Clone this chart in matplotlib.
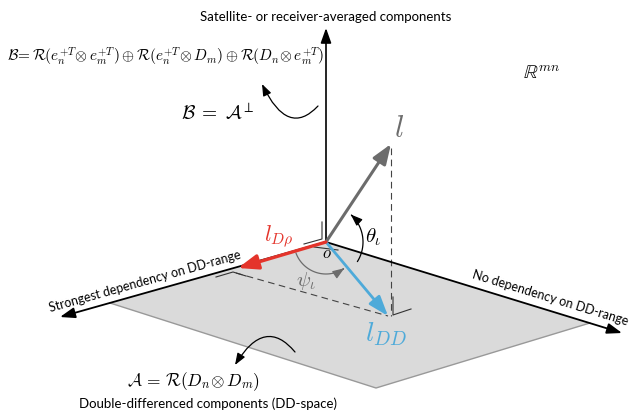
import numpy as np
import matplotlib
matplotlib.use("Agg")
import matplotlib.pyplot as plt
from matplotlib.patches import Polygon, FancyArrowPatch
from matplotlib.path import Path

plt.rcParams['mathtext.fontset'] = 'cm'
plt.rcParams['font.family'] = ['Lato', 'DejaVu Sans']

# geometry of the sketch (pixel units, y pointing down)
origin = (326, 242)
plane = [(326, 242), (110, 303), (376, 388), (590, 323)]
up_tip = (326, 28)
left_tip = (60, 317)
right_tip = (622, 333)
l_tip = (391, 144)
ldp_tip = (238, 268)
ldd_tip = (388, 316)
foot = (236, 273)

# angle arcs: radius, start and end angle (deg, counter-clockwise on screen)
theta_arc = (37, -32, 48)
psi_arc = (32, 200, 305)

# colours
red = '#e4342b'
blue = '#4eaad9'
grey = '#6c6c6c'

fig = plt.figure(figsize=(6.29, 4.13), dpi=100)
ax = fig.add_axes([0, 0, 1, 1])
ax.set_xlim(0, 629)
ax.set_ylim(413, 0)
ax.axis('off')


def arrow(p0, p1, color='k', lw=1.1, hl=9, hw=3.2, z=3):
    a = FancyArrowPatch(p0, p1, arrowstyle='-|>,head_length=%g,head_width=%g' % (hl / 1.39, hw / 1.39),
                        color=color, lw=lw, shrinkA=0, shrinkB=0, mutation_scale=1.39, zorder=z)
    ax.add_patch(a)


def path_arrow(verts, codes, color='k', lw=0.9, hl=7, hw=2.6, z=3):
    a = FancyArrowPatch(path=Path(verts, codes),
                        arrowstyle='-|>,head_length=%g,head_width=%g' % (hl / 1.39, hw / 1.39),
                        color=color, lw=lw, mutation_scale=1.39, zorder=z)
    ax.add_patch(a)


def arc_pts(c, r, a0, a1, n=60):
    t = np.radians(np.linspace(a0, a1, n))
    return np.column_stack([c[0] + r * np.cos(t), c[1] - r * np.sin(t)])


# plane (DD-space)
ax.add_patch(Polygon(plane, closed=True, facecolor='#dadada', edgecolor='none', zorder=1))
ax.plot([plane[1][0], plane[2][0], plane[3][0]], [plane[1][1], plane[2][1], plane[3][1]],
        color='#999999', lw=1.0, zorder=2)

# coordinate axes
arrow(origin, up_tip, lw=1.2)
arrow(origin, left_tip, lw=1.3)
arrow(origin, right_tip, lw=1.3)

# projections
ax.plot([l_tip[0], l_tip[0]], [l_tip[1] + 4, ldd_tip[1]], color='#444444', lw=0.8,
        dashes=(6, 4), zorder=2)
ax.plot([foot[0], ldd_tip[0]], [foot[1], ldd_tip[1]], color='#444444', lw=0.8,
        dashes=(6, 4), zorder=2)

# right-angle marks
ax.plot([322, 322, 304], [222, 239, 244], color='#333333', lw=0.8, zorder=4)
ax.plot([314, 338], [247, 250], color='#333333', lw=0.8, zorder=4)
ax.plot([216, 233, 246], [277, 272, 276], color='#333333', lw=0.8, zorder=4)
ax.plot([393, 393, 411], [297, 315, 309], color='#333333', lw=0.8, zorder=4)

# vectors
arrow(origin, l_tip, color=grey, lw=2.2, hl=12, hw=4.5, z=5)
arrow(origin, ldd_tip, color=blue, lw=2.0, hl=12, hw=4.2, z=5)
arrow(origin, ldp_tip, color=red, lw=2.4, hl=12, hw=4.5, z=5)

# angle arcs
pts = arc_pts(origin, *theta_arc)
path_arrow(pts, [Path.MOVETO] + [Path.LINETO] * (len(pts) - 1), color='k', lw=0.9)
pts = arc_pts(origin, *psi_arc)
path_arrow(pts, [Path.MOVETO] + [Path.LINETO] * (len(pts) - 1), color=grey, lw=0.9)

# curved pointers to the subspace labels
path_arrow([(318, 106), (288, 138), (262, 84)], [Path.MOVETO, Path.CURVE3, Path.CURVE3], lw=0.9)
path_arrow([(295, 352), (265, 316), (235, 365)], [Path.MOVETO, Path.CURVE3, Path.CURVE3], lw=0.9)

# labels
ax.text(326, 17, 'Satellite- or receiver-averaged components', ha='center', va='center', fontsize=9.5)
ax.text(166, 57, r'$\mathcal{B}\!=\mathcal{R}(e_n^{+T}\!\otimes e_m^{+T})\oplus\mathcal{R}(e_n^{+T}\!\otimes D_m)'
                 r'\oplus\mathcal{R}(D_n\!\otimes e_m^{+T})$', ha='center', va='center', fontsize=11)
ax.text(218, 112, r'$\mathcal{B}\;=\;\mathcal{A}^{\perp}$', ha='center', va='center', fontsize=14)
ax.text(542, 73, r'$\mathbb{R}^{mn}$', ha='center', va='center', fontsize=14)
ax.text(194, 382, r'$\mathcal{A}\,=\,\mathcal{R}(D_n\!\otimes D_m)$', ha='center', va='center', fontsize=12.5)
ax.text(208, 404, 'Double-differenced components (DD-space)', ha='center', va='center', fontsize=9.5)
ax.text(145, 281, 'Strongest dependency on DD-range', ha='center', va='center', fontsize=9,
        rotation=15.7, rotation_mode='anchor')
ax.text(550, 298, 'No dependency on DD-range', ha='center', va='center', fontsize=9,
        rotation=-17, rotation_mode='anchor')

ax.text(399, 128, r'$l$', ha='center', va='center', fontsize=22, color=grey)
ax.text(279, 236, r'$l_{D\rho}$', ha='center', va='center', fontsize=16, color=red)
ax.text(386, 334, r'$l_{DD}$', ha='center', va='center', fontsize=20, color=blue)
ax.text(373, 237, r'$\theta_\iota$', ha='center', va='center', fontsize=15)
ax.text(306, 281, r'$\psi_\iota$', ha='center', va='center', fontsize=15, color=grey)
ax.text(327, 253, r'$o$', ha='center', va='center', fontsize=12)

fig.savefig('out.png', dpi=100)
